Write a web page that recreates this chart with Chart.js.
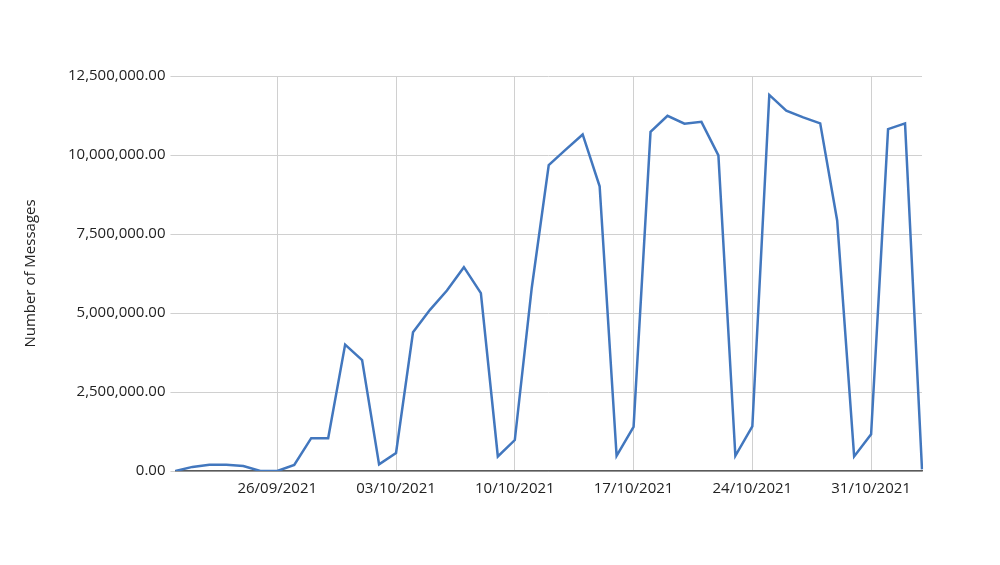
<!DOCTYPE html>
<html>
<head>
<meta charset="utf-8">
<script src="https://cdn.jsdelivr.net/npm/chart.js@4"></script>
<style>
    html, body { margin: 0; padding: 0; background: #ffffff; }
    #wrap { width: 1000px; height: 565px; position: relative; }
</style>
</head>
<body>
<div id="wrap"><canvas id="chart-messages"></canvas></div>
<script>
// Daily message counts, 20/09/2021 .. 03/11/2021
const DATES = [
    '20/09/2021', '21/09/2021', '22/09/2021', '23/09/2021', '24/09/2021', '25/09/2021', '26/09/2021',
    '27/09/2021', '28/09/2021', '29/09/2021', '30/09/2021', '01/10/2021', '02/10/2021', '03/10/2021',
    '04/10/2021', '05/10/2021', '06/10/2021', '07/10/2021', '08/10/2021', '09/10/2021', '10/10/2021',
    '11/10/2021', '12/10/2021', '13/10/2021', '14/10/2021', '15/10/2021', '16/10/2021', '17/10/2021',
    '18/10/2021', '19/10/2021', '20/10/2021', '21/10/2021', '22/10/2021', '23/10/2021', '24/10/2021',
    '25/10/2021', '26/10/2021', '27/10/2021', '28/10/2021', '29/10/2021', '30/10/2021', '31/10/2021',
    '01/11/2021', '02/11/2021', '03/11/2021',
];

const MESSAGES = [
    0, 130000, 200000, 200000, 160000, 0, 0,
    190000, 1040000, 1040000, 4000000, 3510000, 210000, 570000,
    4390000, 5100000, 5710000, 6450000, 5630000, 460000, 980000,
    5800000, 9680000, 10170000, 10650000, 9010000, 480000, 1400000,
    10730000, 11240000, 10990000, 11050000, 9990000, 480000, 1410000,
    11900000, 11400000, 11190000, 11000000, 7930000, 460000, 1160000,
    10820000, 11000000, 50000,
];

const Y_TICKS = [0, 2500000, 5000000, 7500000, 10000000, 12500000];

const LINE_COLOR = '#4277be';
const GRID_COLOR = '#d0d0d0';
const TEXT_COLOR = '#222222';
const FONT = { family: 'Open Sans', size: 15 };

// only Sundays get a label and a gridline
const isWeekTick = i => i % 7 === 6;

const canvas = document.getElementById('chart-messages');

new Chart(canvas, {
    type: 'line',
    data: {
        labels: DATES,
        datasets: [{
            label: 'Messages',
            data: MESSAGES,
            borderColor: LINE_COLOR,
            borderWidth: 2.5,
            pointRadius: 0,
            tension: 0,
            fill: false,
        }],
    },
    options: {
        responsive: true,
        maintainAspectRatio: false,
        animation: false,
        layout: { padding: { left: 22, right: 78, top: 76, bottom: 58 } },
        plugins: {
            legend: { display: false },
            tooltip: { enabled: false },
        },
        scales: {
            x: {
                type: 'category',
                offset: false,
                grid: {
                    color: ctx => isWeekTick(ctx.index) ? GRID_COLOR : 'rgba(0,0,0,0)',
                    drawTicks: false,
                },
                border: { display: true, color: '#5a5a5a', width: 1.5 },
                ticks: {
                    autoSkip: false,
                    maxRotation: 0,
                    padding: 9,
                    color: TEXT_COLOR,
                    font: FONT,
                    callback: (val, i) => isWeekTick(i) ? DATES[i] : '',
                },
            },
            y: {
                min: 0,
                max: 12500000,
                afterBuildTicks: axis => { axis.ticks = Y_TICKS.map(v => ({ value: v })); },
                grid: { color: GRID_COLOR, tickLength: 5 },
                border: { display: false },
                ticks: {
                    color: TEXT_COLOR,
                    padding: 5,
                    font: FONT,
                    callback: val => val.toLocaleString('en-US', { minimumFractionDigits: 2, maximumFractionDigits: 2 }),
                },
                title: {
                    display: true,
                    text: 'Number of Messages',
                    color: TEXT_COLOR,
                    padding: { top: 0, bottom: 23 },
                    font: FONT,
                },
            },
        },
    },
});
</script>
</body>
</html>
